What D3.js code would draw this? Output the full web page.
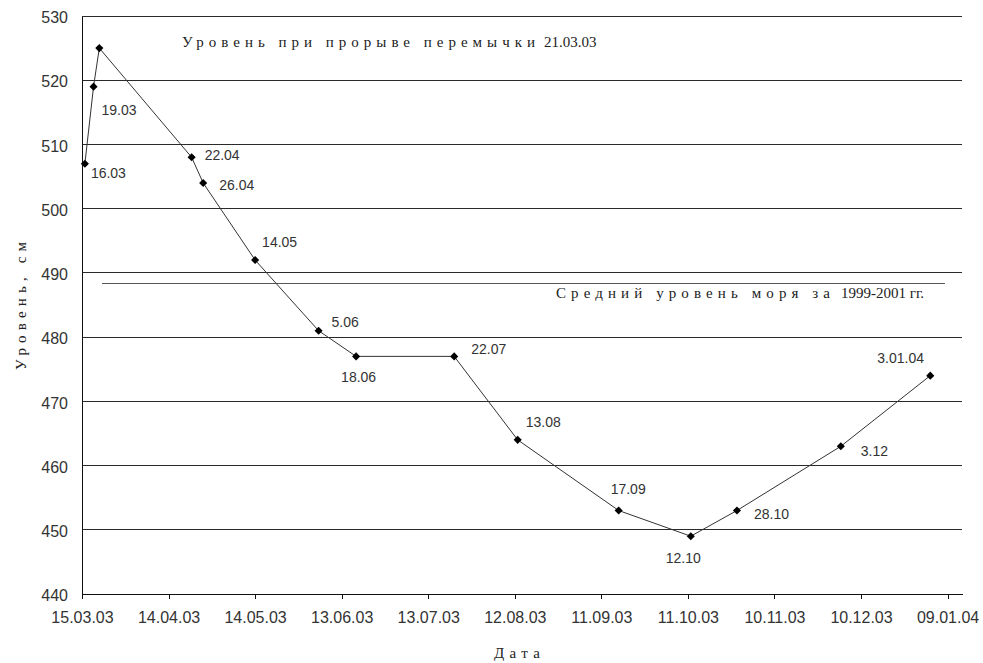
<!DOCTYPE html>
<html>
<head>
<meta charset="utf-8">
<script src="https://cdn.jsdelivr.net/npm/d3@7/dist/d3.min.js"></script>
<style>
  html, body { margin: 0; padding: 0; background: #fff; }
  svg { display: block; }
</style>
</head>
<body>
<svg id="chart" width="983" height="663"></svg>
<script>
// Sea level observations, 2003–2004
const obsDates  = ["16.03.03", "19.03.03", "21.03.03", "22.04.03", "26.04.03", "14.05.03", "05.06.03",
                   "18.06.03", "22.07.03", "13.08.03", "17.09.03", "12.10.03", "28.10.03", "03.12.03", "03.01.04"];
const obsLevels = [507, 519, 525, 508, 504, 492, 481, 477, 477, 464, 453, 449, 453, 463, 474];
const obsLabels = ["16.03", "19.03", "", "22.04", "26.04", "14.05", "5.06",
                   "18.06", "22.07", "13.08", "17.09", "12.10", "28.10", "3.12", "3.01.04"];

// Axis ticks
const xTickLabels = ["15.03.03", "14.04.03", "14.05.03", "13.06.03", "13.07.03", "12.08.03",
                     "11.09.03", "11.10.03", "10.11.03", "10.12.03", "09.01.04"];
const yTickValues = [440, 450, 460, 470, 480, 490, 500, 510, 520, 530];

// Mean sea level 1999–2001 (reference line)
const meanLevel = 488.4;
const meanLineDates = ["22.03.03", "08.01.04"];

const titleWords = "Уровень при прорыве перемычки";
const titleDate = "21.03.03";
const meanWords = "Средний уровень моря за";
const meanTail = "1999-2001 гг.";
const yTitle = "Уровень, см";
const xTitle = "Дата";

// Label placement relative to each marker (dx, dy to baseline-left)
const labelOffsets = [[6, 14], [8, 28], [0, 0], [13, 3], [16, 7], [7, -13], [13, -4],
                      [-15, 26], [17, -2], [8, -13], [-8, -17], [-25, 27], [17, 8], [20, 10], [-53, -13]];

const parse = d3.utcParse("%d.%m.%y");
const svg = d3.select("#chart");

const plot = { left: 82, right: 962, top: 16, bottom: 594 };

const x = d3.scaleUtc()
  .domain([parse("15.03.03"), parse("14.01.04")])
  .range([plot.left, plot.right]);

const y = d3.scaleLinear()
  .domain([440, 530])
  .range([plot.bottom, plot.top]);

const sansFont = "'Liberation Sans', Arial, sans-serif";
const serifFont = "'Liberation Serif', 'Times New Roman', serif";

// Horizontal gridlines
svg.append("g")
  .selectAll("line")
  .data(yTickValues.filter(v => v > 440))
  .join("line")
  .attr("x1", plot.left).attr("x2", plot.right)
  .attr("y1", d => y(d)).attr("y2", d => y(d))
  .attr("stroke", "#2a2a2a").attr("stroke-width", 1)
  .attr("shape-rendering", "crispEdges");

// Y axis
const yAxis = d3.axisLeft(y).tickValues(yTickValues).tickSize(0).tickPadding(14);
const gy = svg.append("g").attr("transform", `translate(${plot.left},0)`).call(yAxis);
gy.select(".domain").attr("stroke", "#111").attr("shape-rendering", "crispEdges");
gy.selectAll("text")
  .attr("font-family", sansFont).attr("font-size", 16).attr("fill", "#333")
  .attr("dy", "0.42em");

// X axis
const xTicks = xTickLabels.map(parse);
const xAxis = d3.axisBottom(x)
  .tickValues(xTicks)
  .tickFormat((d, i) => xTickLabels[i])
  .tickSizeInner(5).tickSizeOuter(0).tickPadding(13);
const gx = svg.append("g").attr("transform", `translate(0,${plot.bottom})`).call(xAxis);
gx.select(".domain").attr("stroke", "#111").attr("shape-rendering", "crispEdges");
gx.selectAll(".tick line").attr("stroke", "#111").attr("shape-rendering", "crispEdges");
gx.selectAll("text")
  .attr("font-family", sansFont).attr("font-size", 16).attr("fill", "#333");

// Mean sea level line
svg.append("line")
  .attr("x1", x(parse(meanLineDates[0]))).attr("x2", x(parse(meanLineDates[1])))
  .attr("y1", y(meanLevel)).attr("y2", y(meanLevel))
  .attr("stroke", "#555").attr("stroke-width", 1.2)
  .attr("shape-rendering", "crispEdges");

// Observation series
const pts = obsDates.map((d, i) => ({ date: parse(d), level: obsLevels[i], label: obsLabels[i], off: labelOffsets[i] }));

svg.append("path")
  .datum(pts)
  .attr("fill", "none")
  .attr("stroke", "#333")
  .attr("stroke-width", 1)
  .attr("d", d3.line().x(d => x(d.date)).y(d => y(d.level)));

svg.append("g")
  .selectAll("path")
  .data(pts)
  .join("path")
  .attr("transform", d => `translate(${x(d.date)},${y(d.level)})`)
  .attr("d", d3.symbol(d3.symbolDiamond2, 42))
  .attr("fill", "#000");

svg.append("g")
  .selectAll("text")
  .data(pts.filter(d => d.label))
  .join("text")
  .attr("x", d => x(d.date) + d.off[0])
  .attr("y", d => y(d.level) + d.off[1])
  .attr("font-family", sansFont).attr("font-size", 14).attr("fill", "#333")
  .text(d => d.label);

// Spaced-out serif captions: stretch letter spacing so the word part spans [x0, x1]
function spacedText(g, words, tail, x0, x1, baseline, tailGap, size) {
  const t = g.append("text")
    .attr("x", x0).attr("y", baseline)
    .attr("font-family", serifFont).attr("font-size", size).attr("fill", "#222");
  const w = t.append("tspan").text(words);
  const natural = w.node().getComputedTextLength();
  const n = words.length;
  const ls = (x1 - x0 - natural) / (n - 1);
  w.attr("letter-spacing", ls);
  if (tail) {
    t.append("tspan").attr("x", x1 + tailGap).text(tail);
  }
  return t;
}

const ann = svg.append("g");
spacedText(ann, titleWords, titleDate, 182, 535, 47, 9, 15);
spacedText(ann, meanWords, meanTail, 556, 830, 298, 11, 15);
spacedText(ann, xTitle, null, 494, 540, 658, 0, 15);

// Rotated y title
const yt = svg.append("g").attr("transform", "translate(26,370) rotate(-90)");
spacedText(yt, yTitle, null, 0, 128, 0, 0, 15);
</script>
</body>
</html>
